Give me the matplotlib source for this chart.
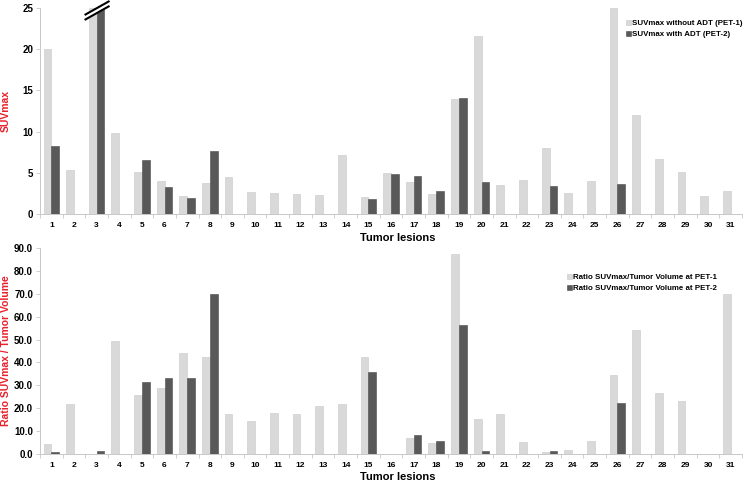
import matplotlib
matplotlib.use("Agg")
import matplotlib.pyplot as plt
import numpy as np

plt.rcParams['font.family'] = ['Liberation Sans', 'DejaVu Sans']

lesions = [str(i) for i in range(1, 32)]

# SUVmax (values at 25 are cut off by the axis break)
suv_pet1 = [20.0, 5.4, 25.0, 9.8, 5.1, 4.0, 2.2, 3.8, 4.5, 2.7, 2.6, 2.4, 2.3, 7.1, 2.1,
            5.0, 3.9, 2.4, 14.0, 21.6, 3.5, 4.1, 8.0, 2.6, 4.0, 25.0, 12.0, 6.7, 5.1, 2.2, 2.8]
suv_pet2 = [8.3, 0, 25.0, 0, 6.6, 3.3, 2.0, 7.7, 0, 0, 0, 0, 0, 0, 1.8,
            4.8, 4.6, 2.8, 14.1, 3.9, 0, 0, 3.4, 0, 0, 3.6, 0, 0, 0, 0, 0]

# Ratio SUVmax / tumor volume
ratio_pet1 = [4.3, 21.8, 0.2, 49.2, 25.7, 28.7, 44.0, 42.2, 17.4, 14.3, 18.0, 17.4, 20.9, 21.7, 42.2,
              0, 7.1, 4.7, 87.5, 15.4, 17.5, 5.4, 1.0, 1.9, 5.7, 34.6, 54.3, 26.8, 23.3, 0, 70.0]
ratio_pet2 = [0.8, 0, 1.5, 0, 31.4, 33.0, 33.4, 70.0, 0, 0, 0, 0, 0, 0, 36.0,
              0, 8.4, 5.5, 56.2, 1.3, 0, 0, 1.2, 0, 0, 22.4, 0, 0, 0, 0, 0]

light = "#d9d9d9"
dark = "#595959"
red = "#e8202a"

fig = plt.figure(figsize=(7.46, 4.83), dpi=100)
ax1 = fig.add_axes([40 / 746, 1 - 214 / 483, 702 / 746, 206 / 483])
ax2 = fig.add_axes([40 / 746, 1 - 454 / 483, 702 / 746, 206 / 483])

x = np.arange(len(lesions))
w = 0.345


def draw(ax, a, b, labels, ymax, step, fmt, ylabel, legend_pos):
    ax.bar(x - w / 2, a, w, color=light, edgecolor="#c8c8c8", linewidth=0.4, label=labels[0])
    ax.bar(x + w / 2, b, w, color=dark, edgecolor="#4a4a4a", linewidth=0.4, label=labels[1])
    ax.set_xlim(-0.5, len(lesions) - 0.5)
    ax.set_ylim(0, ymax)
    ax.set_yticks(np.arange(0, ymax + 0.01, step))
    ax.set_yticklabels([fmt.format(v) for v in np.arange(0, ymax + 0.01, step)])
    ax.set_xticks(x)
    ax.set_xticklabels(lesions)
    ax.set_xticks(np.arange(-0.5, len(lesions), 1), minor=True)
    ax.tick_params(axis="x", which="major", length=0, labelsize=6, pad=6)
    ax.tick_params(axis="x", which="minor", length=3, color="#c8c8c8", width=0.6)
    ax.tick_params(axis="y", length=3, color="#c8c8c8", width=0.6, labelsize=7, pad=2)
    for lbl in ax.get_yticklabels() + ax.get_xticklabels():
        lbl.set_fontweight("bold")
    for s in ["top", "right"]:
        ax.spines[s].set_visible(False)
    for s in ["left", "bottom"]:
        ax.spines[s].set_color("#c8c8c8")
        ax.spines[s].set_linewidth(0.7)
    ax.set_xlabel("Tumor lesions", fontsize=8, fontweight="bold")
    ax.set_ylabel(ylabel, fontsize=7.5, fontweight="bold", color=red, labelpad=4)
    ax.legend(loc="upper left", bbox_to_anchor=legend_pos, frameon=False,
              prop={"weight": "bold", "size": 5.7}, handlelength=0.6, handleheight=0.6,
              handletextpad=0.2, labelspacing=0.45, borderpad=0)


draw(ax1, suv_pet1, suv_pet2, ["SUVmax without ADT (PET-1)", "SUVmax with ADT (PET-2)"],
     25, 5, "{:.0f}", "SUVmax", (582 / 702, 1 - 8 / 206))
draw(ax2, ratio_pet1, ratio_pet2, ["Ratio SUVmax/Tumor Volume at PET-1",
                                   "Ratio SUVmax/Tumor Volume at PET-2"],
     90, 10, "{:.1f}", "Ratio SUVmax / Tumor Volume", (523 / 702, 1 - 22 / 206))
ax1.xaxis.set_label_coords(0.51, -0.09)
ax2.xaxis.set_label_coords(0.51, -0.085)
ax1.yaxis.set_label_coords(-0.042, 0.5)
ax2.yaxis.set_label_coords(-0.042, 0.5)

# axis break marks on lesion 3
bx = np.array([2 - 0.53, 2 + 0.57])
ax1.fill_between(bx, np.array([23.55, 25.25]), np.array([24.15, 25.85]), color="white",
                 clip_on=False, lw=0, zorder=3)
for y0 in [23.55, 24.15]:
    ax1.plot(bx, np.array([y0, y0 + 1.7]), color="black", lw=1.5, clip_on=False,
             solid_capstyle="butt", zorder=4)

fig.savefig("out.png", dpi=100)
